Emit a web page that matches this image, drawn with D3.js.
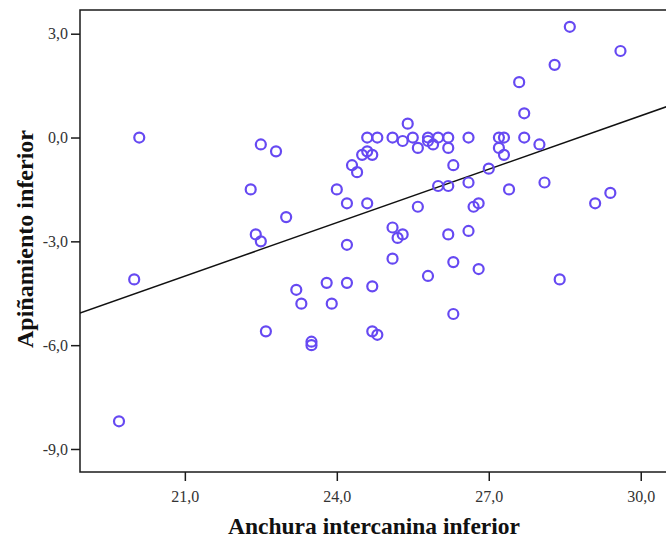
<!DOCTYPE html>
<html>
<head>
<meta charset="utf-8">
<script src="https://cdn.jsdelivr.net/npm/d3@7/dist/d3.min.js"></script>
<style>
  html, body { margin: 0; padding: 0; background: #ffffff; overflow: hidden; }
  svg { display: block; }
</style>
</head>
<body>
<svg id="chart" width="666" height="542"></svg>
<script>
// Anchura intercanina inferior (mm) for each case
const anchura = [
  20.1, 20.0, 19.7, 22.5, 22.8, 22.3, 23.0, 22.4, 22.5, 24.2,
  24.6, 24.0, 24.3, 24.4, 24.5, 24.6, 24.7, 24.6, 24.8, 24.2,
  23.2, 23.3, 23.8, 24.2, 23.9, 24.7, 22.6, 23.5, 23.5, 24.7,
  24.8, 28.6, 29.6, 28.3, 27.6, 27.7, 25.4, 25.1, 25.5, 25.8,
  26.0, 26.2, 26.6, 27.2, 27.3, 27.7, 25.3, 25.6, 25.8, 25.9,
  26.2, 27.2, 27.3, 28.0, 26.3, 27.0, 26.0, 26.2, 26.6, 27.4,
  28.1, 29.1, 29.4, 25.6, 26.7, 26.8, 25.1, 25.2, 25.3, 26.2,
  26.6, 25.1, 25.8, 26.3, 26.8, 28.4, 26.3
];
// Apiñamiento inferior (mm) for each case
const apinamiento = [
   0.0, -4.1, -8.2, -0.2, -0.4, -1.5, -2.3, -2.8, -3.0, -1.9,
  -1.9, -1.5, -0.8, -1.0, -0.5, -0.4, -0.5,  0.0,  0.0, -3.1,
  -4.4, -4.8, -4.2, -4.2, -4.8, -4.3, -5.6, -5.9, -6.0, -5.6,
  -5.7,  3.2,  2.5,  2.1,  1.6,  0.7,  0.4,  0.0,  0.0,  0.0,
   0.0,  0.0,  0.0,  0.0,  0.0,  0.0, -0.1, -0.3, -0.1, -0.2,
  -0.3, -0.3, -0.5, -0.2, -0.8, -0.9, -1.4, -1.4, -1.3, -1.5,
  -1.3, -1.9, -1.6, -2.0, -2.0, -1.9, -2.6, -2.9, -2.8, -2.8,
  -2.7, -3.5, -4.0, -3.6, -3.8, -4.1, -5.1
];
// Linear fit: [intercept, slope]
const fitCoef = [-14.82, 0.515];

const xTicks = [21, 24, 27, 30];
const yTicks = [3, 0, -3, -6, -9];
const xTitle = "Anchura intercanina inferior";
const yTitle = "Apiñamiento inferior";

const fmt = v => d3.format(".1f")(v).replace(".", ",").replace("−", "-");

const svg = d3.select("#chart");
const plotL = 80, plotT = 10, plotB = 472, plotR = 700;

const x = d3.scaleLinear().domain([18.93, 31.17]).range([plotL, plotR]);
const y = d3.scaleLinear().domain([-9.665, 3.685]).range([plotB, plotT]);

const font = "'Liberation Serif', 'Times New Roman', serif";

// plot frame
svg.append("rect")
  .attr("x", plotL).attr("y", plotT)
  .attr("width", plotR - plotL).attr("height", plotB - plotT)
  .attr("fill", "#ffffff")
  .attr("stroke", "#1a1a1a").attr("stroke-width", 1.5);

// y axis
const yAxis = d3.axisLeft(y).tickValues(yTicks).tickFormat(fmt).tickSize(9).tickPadding(3);
const gy = svg.append("g").attr("transform", `translate(${plotL},0)`).call(yAxis);
gy.select(".domain").remove();
gy.selectAll(".tick line").attr("stroke", "#1a1a1a").attr("stroke-width", 1.5);
gy.selectAll(".tick text")
  .attr("font-family", font).attr("font-size", 16).attr("fill", "#333");

// x axis
const xAxis = d3.axisBottom(x).tickValues(xTicks).tickFormat(fmt).tickSize(9).tickPadding(10);
const gx = svg.append("g").attr("transform", `translate(0,${plotB})`).call(xAxis);
gx.select(".domain").remove();
gx.selectAll(".tick line").attr("stroke", "#1a1a1a").attr("stroke-width", 1.5);
gx.selectAll(".tick text")
  .attr("font-family", font).attr("font-size", 16).attr("fill", "#333");

// clip for plot contents
svg.append("clipPath").attr("id", "plotClip")
  .append("rect").attr("x", plotL).attr("y", plotT)
  .attr("width", plotR - plotL).attr("height", plotB - plotT);

const plot = svg.append("g").attr("clip-path", "url(#plotClip)");

// regression line
const xd = x.domain();
plot.append("line")
  .attr("x1", x(xd[0])).attr("y1", y(fitCoef[0] + fitCoef[1] * xd[0]))
  .attr("x2", x(xd[1])).attr("y2", y(fitCoef[0] + fitCoef[1] * xd[1]))
  .attr("stroke", "#111").attr("stroke-width", 1.5);

// data points
const pts = anchura.map((a, i) => ({ a, b: apinamiento[i] }));
plot.selectAll("circle.pt").data(pts).enter().append("circle")
  .attr("class", "pt")
  .attr("cx", d => x(d.a)).attr("cy", d => y(d.b))
  .attr("r", 5)
  .attr("fill", "none")
  .attr("stroke", "#6649f2")
  .attr("stroke-width", 2.2);

// axis titles
svg.append("text")
  .attr("x", 374).attr("y", 534)
  .attr("text-anchor", "middle")
  .attr("font-family", font).attr("font-weight", "bold").attr("font-size", 23.5)
  .attr("fill", "#111")
  .text(xTitle);

svg.append("text")
  .attr("transform", "translate(33,239) rotate(-90)")
  .attr("text-anchor", "middle")
  .attr("font-family", font).attr("font-weight", "bold").attr("font-size", 24)
  .attr("fill", "#111")
  .text(yTitle);
</script>
</body>
</html>
